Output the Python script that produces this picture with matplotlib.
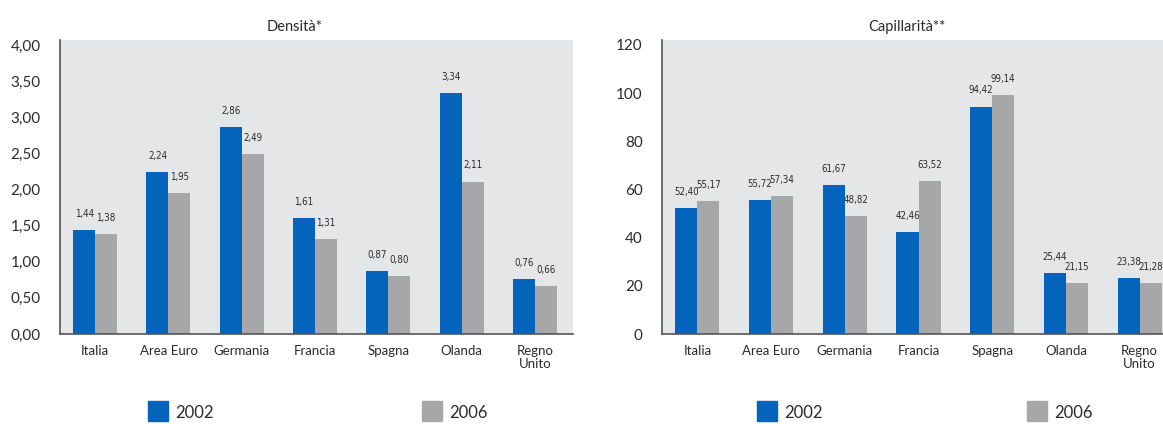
import matplotlib
matplotlib.use("Agg")
import numpy as np
import matplotlib.pyplot as plt
from matplotlib.patches import Rectangle

# data
paesi = ["Italia", "Area Euro", "Germania", "Francia", "Spagna", "Olanda", "Regno\nUnito"]
densita_2002 = [1.44, 2.24, 2.86, 1.61, 0.87, 3.34, 0.76]
densita_2006 = [1.38, 1.95, 2.49, 1.31, 0.80, 2.11, 0.66]
capill_2002 = [52.40, 55.72, 61.67, 42.46, 94.42, 25.44, 23.38]
capill_2006 = [55.17, 57.34, 48.82, 63.52, 99.14, 21.15, 21.28]
densita_ticks = [0, 0.5, 1, 1.5, 2, 2.5, 3, 3.5, 4]
capill_ticks = [0, 20, 40, 60, 80, 100, 120]

BLUE = "#0463bb"
GREY = "#a7a7aa"
BG = "#e5e6e8"
INK = "#2b2b2b"
W, H = 1163, 424
plt.rcParams['font.family'] = ['Lato', 'DejaVu Sans']

fig = plt.figure(figsize=(W / 100, H / 100), dpi=100)


def virgola(v, dec=2):
    return f"{v:.{dec}f}".replace(".", ",")


def pannello(rect, v02, v06, ticks, ymax, tdec):
    ax = fig.add_axes(rect)
    ax.set_facecolor(BG)
    x = np.arange(len(paesi))
    bw = 0.30
    ax.bar(x - bw / 2, v02, bw, color=BLUE, zorder=2)
    ax.bar(x + bw / 2, v06, bw, color=GREY, zorder=2)
    off = ymax * 0.055
    for xi, a, b in zip(x, v02, v06):
        for xx, v in [(xi - bw / 2, a), (xi + bw / 2, b)]:
            ax.text(xx, v + off, virgola(v), ha="center", va="center",
                    fontsize=7, family='DejaVu Sans', fontstretch='condensed',
                    color=INK, clip_on=False)
    ax.set_xlim(-0.48, len(paesi) - 0.48)
    ax.set_ylim(0, ymax)
    ax.set_yticks(ticks)
    ax.set_yticklabels([virgola(t, tdec) for t in ticks], fontsize=11, color=INK)
    ax.set_xticks(x)
    ax.set_xticklabels(paesi, fontsize=9.5, color=INK, linespacing=1.1, va="top")
    ax.tick_params(axis="y", length=0, pad=14)
    ax.tick_params(axis="x", length=0, pad=8)
    for s in ["top", "right"]:
        ax.spines[s].set_visible(False)
    for s in ["left", "bottom"]:
        ax.spines[s].set_color("#555555")
        ax.spines[s].set_linewidth(1.2)
    return ax


top_px, base_px = 40, 334
pannello([60 / W, (H - base_px) / H, 513 / W, (base_px - top_px) / H],
         densita_2002, densita_2006, densita_ticks, 4.0 * 294 / 289, 2)
pannello([662 / W, (H - base_px) / H, 516 / W, (base_px - top_px) / H],
         capill_2002, capill_2006, capill_ticks, 120 * 294 / 289, 0)

fig.text(295 / W, 1 - 27 / H, "Densità*", ha="center", va="center", fontsize=10.5, color=INK)
fig.text(907 / W, 1 - 27 / H, "Capillarità**", ha="center", va="center", fontsize=10.5, color=INK)

# legends
for bx, gx in [(148, 422), (757, 1027)]:
    for sx, col, lab in [(bx, BLUE, "2002"), (gx, GREY, "2006")]:
        fig.patches.append(Rectangle((sx / W, (H - 421) / H), 20 / W, 20 / H,
                                     transform=fig.transFigure, color=col))
        fig.text((sx + 27) / W, 1 - 413 / H, lab, ha="left", va="center",
                 fontsize=12, color=INK)

fig.savefig("out.png", dpi=100)
